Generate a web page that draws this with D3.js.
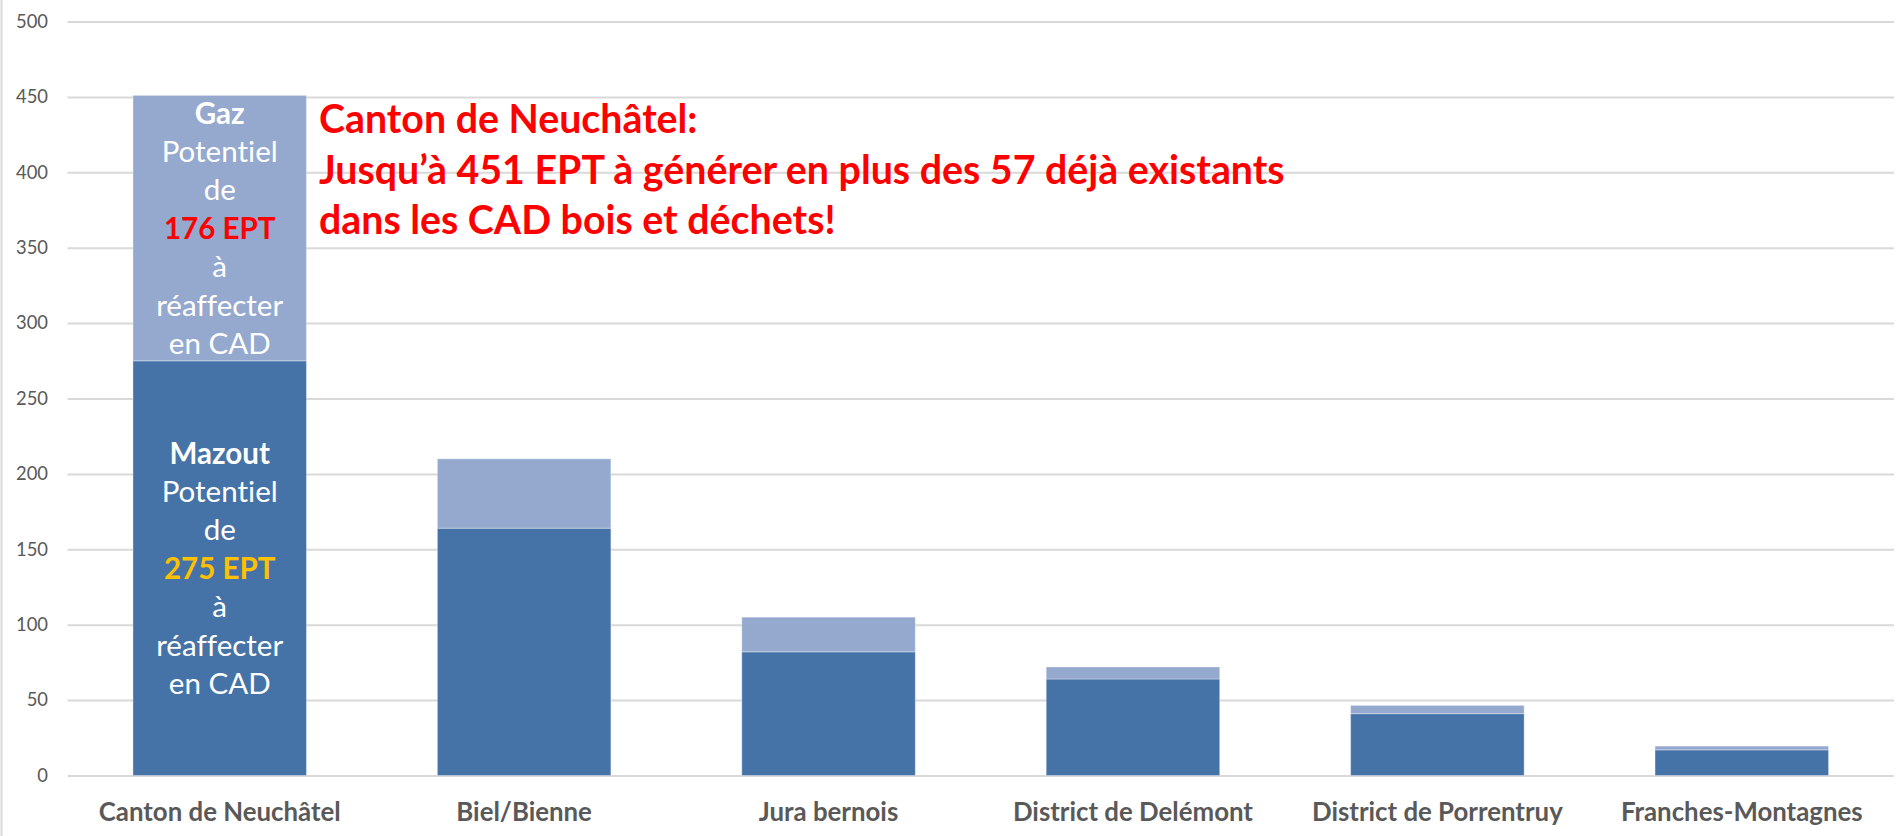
<!DOCTYPE html>
<html>
<head>
<meta charset="utf-8">
<script src="https://cdn.jsdelivr.net/npm/d3@7"></script>
<style>
  body { margin: 0; background: #fff; }
  svg { display: block; }
  text { font-family: Lato, "Open Sans", sans-serif; font-variant-ligatures: none; }
</style>
</head>
<body>
<svg id="chart"></svg>
<script>
// data
const categories = ["Canton de Neuchâtel", "Biel/Bienne", "Jura bernois", "District de Delémont", "District de Porrentruy", "Franches-Montagnes"];
const mazout = [275, 164, 82, 64, 41, 17];
const gaz = [176, 46, 23, 8, 5.5, 2.5];
const yTicks = [0, 50, 100, 150, 200, 250, 300, 350, 400, 450, 500];

const gazLines = [["Gaz", "bold", "#fff"], ["Potentiel", "normal", "#fff"], ["de", "normal", "#fff"], ["176 EPT", "bold", "#ff0000"], ["à", "normal", "#fff"], ["réaffecter", "normal", "#fff"], ["en CAD", "normal", "#fff"]];
const mazoutLines = [["Mazout", "bold", "#fff"], ["Potentiel", "normal", "#fff"], ["de", "normal", "#fff"], ["275 EPT", "bold", "#ffc000"], ["à", "normal", "#fff"], ["réaffecter", "normal", "#fff"], ["en CAD", "normal", "#fff"]];
const noteLines = ["Canton de Neuchâtel:", "Jusqu’à 451 EPT à générer en plus des 57 déjà existants", "dans les CAD bois et déchets!"];

let width = 1901;
let height = 836;
let plotLeft = 67.5;
let plotRight = 1894;
let plotTop = 21.5;
let plotBottom = 775.5;
let lineStep = 38.4;

let svg = d3.select("#chart")
  .attr("width", width)
  .attr("height", height);

// the original font is narrower, so pick sizes that give the same text widths
function fitFont(sample, weight, target) {
  let t = svg.append("text")
    .style("font-weight", weight)
    .style("font-size", "100px")
    .text(sample);
  let len = t.node().getComputedTextLength();
  t.remove();
  return 100 * target / len;
}
let tickSize = fitFont("500", "normal", 32);
let barTextSize = fitFont("réaffecter", "normal", 127);
let catSize = fitFont("Canton de Neuchâtel", "bold", 242);
let noteSize = fitFont(noteLines[1], "bold", 966);

let stackData = categories.map(function(c, i) {
  return { cat: c, mazout: mazout[i], gaz: gaz[i] };
});

let x = d3.scaleBand()
  .domain(categories)
  .range([plotLeft, plotRight])
  .paddingInner(0.43)
  .paddingOuter(0.215);

let y = d3.scaleLinear()
  .domain([0, 500])
  .range([plotBottom, plotTop]);

// chart border on the left
svg.append("line")
  .attr("x1", 1.5).attr("x2", 1.5)
  .attr("y1", 0).attr("y2", height)
  .attr("stroke", "#d9d9d9")
  .attr("stroke-width", 2);

// gridlines + y labels
let yAxis = d3.axisLeft(y)
  .tickValues(yTicks)
  .tickSize(-(plotRight - plotLeft))
  .tickPadding(19.5);

let gy = svg.append("g")
  .attr("transform", `translate(${plotLeft},0)`)
  .call(yAxis);
gy.select(".domain").remove();
gy.selectAll(".tick line")
  .attr("stroke", "#d9d9d9")
  .attr("stroke-width", 2);
gy.selectAll(".tick text")
  .attr("fill", "#595959")
  .style("font-family", "Lato, 'Open Sans', sans-serif")
  .style("font-size", tickSize + "px");

// stacked bars
let series = d3.stack().keys(["mazout", "gaz"])(stackData);
let colors = { mazout: "#4673a7", gaz: "#95a9cf" };

svg.append("g")
  .selectAll("g")
  .data(series)
  .join("g")
  .attr("fill", function(d) { return colors[d.key]; })
  .selectAll("rect")
  .data(function(d) { return d; })
  .join("rect")
  .attr("x", function(d) { return x(d.data.cat); })
  .attr("width", x.bandwidth())
  .attr("y", function(d) { return y(d[1]); })
  .attr("height", function(d) { return y(d[0]) - y(d[1]); })
  .attr("stroke", "#ffffff")
  .attr("stroke-opacity", 0.35)
  .attr("stroke-width", 1);

// labels inside the first bar
function blockLabel(lines, layer) {
  let d = series[layer][0];
  let cx = x(d.data.cat) + x.bandwidth() / 2;
  let cy = y((d[0] + d[1]) / 2);
  let top = cy - (lines.length - 1) * lineStep / 2;
  svg.append("g")
    .selectAll("text")
    .data(lines)
    .join("text")
    .attr("x", cx)
    .attr("y", function(l, i) { return top + i * lineStep; })
    .attr("dy", "0.36em")
    .attr("text-anchor", "middle")
    .attr("fill", function(l) { return l[2]; })
    .style("font-weight", function(l) { return l[1]; })
    .style("font-size", barTextSize + "px")
    .text(function(l) { return l[0]; });
}
blockLabel(gazLines, 1);
blockLabel(mazoutLines, 0);

// x labels
svg.append("g")
  .selectAll("text")
  .data(categories)
  .join("text")
  .attr("x", function(d) { return x(d) + x.bandwidth() / 2; })
  .attr("y", 811.5)
  .attr("dy", "0.36em")
  .attr("text-anchor", "middle")
  .attr("fill", "#595959")
  .style("font-weight", "bold")
  .style("font-size", catSize + "px")
  .text(function(d) { return d; });

// red note
svg.append("g")
  .selectAll("text")
  .data(noteLines)
  .join("text")
  .attr("x", 319)
  .attr("y", function(d, i) { return 133 + i * 50.5; })
  .attr("fill", "#ff0000")
  .style("font-weight", "bold")
  .style("font-size", noteSize + "px")
  .text(function(d) { return d; });
</script>
</body>
</html>
